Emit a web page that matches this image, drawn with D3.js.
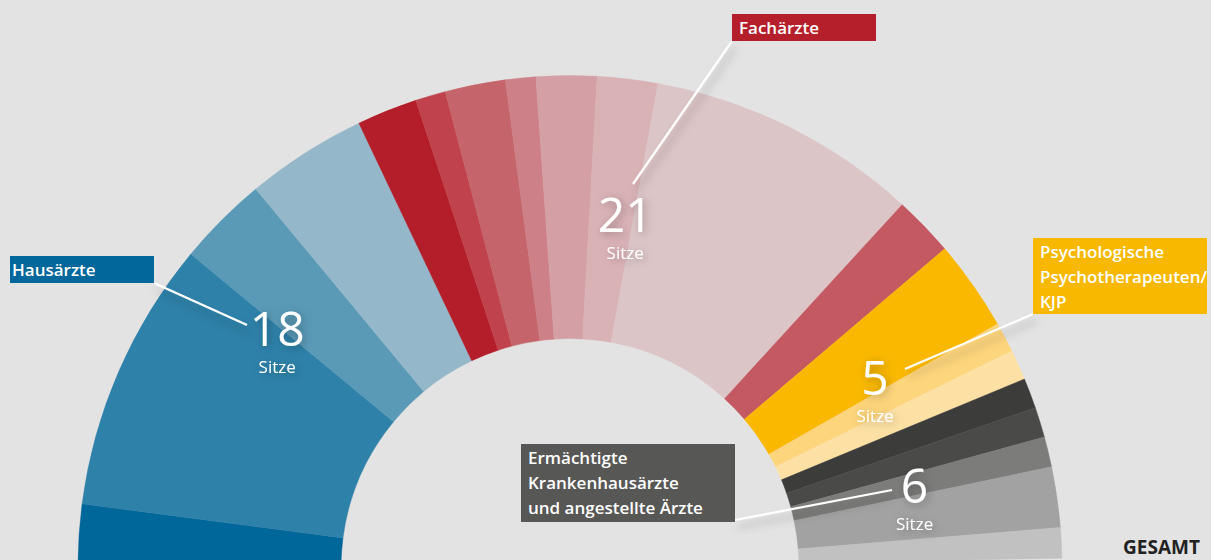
<!DOCTYPE html>
<html>
<head>
    <meta charset="utf-8">
    <title>Sitzverteilung</title>
    <script src="https://cdnjs.cloudflare.com/ajax/libs/d3/7.8.5/d3.min.js"></script>
    <style>
        html,
        body {
            margin: 0;
            padding: 0;
            background-color: #e3e3e3;
            font-family: 'Open Sans', sans-serif;
        }

        svg {
            display: block;
        }
    </style>
</head>
<body>
    <div id="chart"></div>
    <script>
        // seats per group
        const groupNames = ['Hausärzte', 'Fachärzte', 'Psychologische Psychotherapeuten/KJP',
            'Ermächtigte Krankenhausärzte und angestellte Ärzte'];
        const groupSeats = [18, 21, 5, 6];

        // sub segments (left to right)
        const segSeats = [2, 9, 3, 4, 2, 1, 2, 1, 2, 2, 9, 2, 3, 1, 1, 1, 1, 1, 2, 1];
        const segGroup = [0, 0, 0, 0, 1, 1, 1, 1, 1, 1, 1, 1, 2, 2, 2, 3, 3, 3, 3, 3];
        const segColors = ['#00679a', '#2e81a9', '#5a9ab7', '#94b8c9',
            '#b41e2b', '#c0424c', '#c5656b', '#cd8087', '#d4a0a5', '#d9b2b6', '#dcc5c7', '#c45962',
            '#fab800', '#fdd57c', '#fde1a4',
            '#3c3c3b', '#4a4a49', '#7c7c7b', '#a2a2a2', '#c1c1c1'];

        // annotation boxes
        const boxColors = ['#02679a', '#b51f2b', '#f9b800', '#575756'];
        const boxLines = [['Hausärzte'], ['Fachärzte'], ['Psychologische', 'Psychotherapeuten/', 'KJP'],
            ['Ermächtigte', 'Krankenhausärzte', 'und angestellte Ärzte']];
        const boxRects = [[10, 256, 144, 27], [732, 14, 144, 27], [1033, 238, 174, 76], [521, 444, 214, 78]];
        const boxPad = [2, 7, 7, 7];
        const labelSeat = [10.9, 27.6, 41.4, 46.6];
        const labelRadius = [378, 357, 359, 354];
        const leaderFrom = [[154, 283], [732, 41], [1033, 314], [735, 520]];
        const leaderTo = [[247, 325], [633, 184], [905, 369], [892, 490]];

        const width = 1211, height = 560;
        const cx = 570, cy = 567.6;
        const innerR = 229, outerR = 492;
        const totalSeats = d3.sum(groupSeats);

        const angle = d3.scaleLinear()
            .domain([0, totalSeats])
            .range([(-89.7) * Math.PI / 180, 88.9 * Math.PI / 180]);

        const svg = d3.select('#chart')
            .append('svg')
            .attr('width', width)
            .attr('height', height);

        const defs = svg.append('defs');
        const shadow = defs.append('filter')
            .attr('id', 'shadow')
            .attr('x', '-50%').attr('y', '-50%')
            .attr('width', '200%').attr('height', '200%');
        shadow.append('feDropShadow')
            .attr('dx', 3).attr('dy', 7)
            .attr('stdDeviation', 4)
            .attr('flood-color', '#000')
            .attr('flood-opacity', 0.28);

        const glow = defs.append('filter')
            .attr('id', 'glow')
            .attr('x', '-50%').attr('y', '-50%')
            .attr('width', '200%').attr('height', '200%');
        glow.append('feDropShadow')
            .attr('dx', 2).attr('dy', 2)
            .attr('stdDeviation', 5)
            .attr('flood-color', '#000')
            .attr('flood-opacity', 0.3);

        let acc = 0;
        const segs = segSeats.map((s, i) => {
            const d = { start: acc, end: acc + s, color: segColors[i], group: segGroup[i] };
            acc += s;
            return d;
        });

        const arc = d3.arc()
            .innerRadius(innerR)
            .outerRadius(outerR)
            .startAngle(d => angle(d.start))
            .endAngle(d => angle(d.end))
            .padAngle(0);

        const g = svg.append('g').attr('transform', `translate(${cx},${cy})`);

        g.selectAll('path')
            .data(segs)
            .enter()
            .append('path')
            .attr('d', arc)
            .attr('fill', d => d.color)
            .attr('stroke', d => d.color)
            .attr('stroke-width', 0.5);

        // leader lines
        svg.selectAll('.leader')
            .data(leaderFrom)
            .enter()
            .append('line')
            .attr('class', 'leader')
            .attr('x1', d => d[0])
            .attr('y1', d => d[1])
            .attr('x2', (d, i) => leaderTo[i][0])
            .attr('y2', (d, i) => leaderTo[i][1])
            .attr('stroke', '#fff')
            .attr('stroke-width', 2.2)
            .attr('filter', 'url(#shadow)');

        // seat numbers, number and "Sitze" in one text
        const labels = svg.selectAll('.num')
            .data(groupSeats)
            .enter()
            .append('text')
            .attr('class', 'num')
            .attr('transform', (d, i) => {
                const a = angle(labelSeat[i]);
                const x = cx + labelRadius[i] * Math.sin(a);
                const y = cy - labelRadius[i] * Math.cos(a);
                return `translate(${x},${y})`;
            })
            .attr('text-anchor', 'middle')
            .attr('fill', '#fff')
            .attr('filter', 'url(#glow)');

        labels.append('tspan')
            .attr('x', 0)
            .attr('y', 17)
            .style('font-size', '48px')
            .style('font-weight', 500)
            .text(d => d);

        labels.append('tspan')
            .attr('x', 0)
            .attr('y', 44)
            .style('font-size', '17px')
            .style('font-weight', 500)
            .text('Sitze');

        // group boxes
        const boxes = svg.selectAll('.box')
            .data(groupNames)
            .enter()
            .append('g')
            .attr('class', 'box');

        boxes.append('rect')
            .attr('x', (d, i) => boxRects[i][0])
            .attr('y', (d, i) => boxRects[i][1])
            .attr('width', (d, i) => boxRects[i][2])
            .attr('height', (d, i) => boxRects[i][3])
            .attr('fill', (d, i) => boxColors[i]);

        boxes.each(function (d, i) {
            const t = d3.select(this).append('text')
                .attr('fill', '#fff')
                .style('font-size', '17px')
                .style('font-weight', 600);
            boxLines[i].forEach((line, j) => {
                t.append('tspan')
                    .attr('x', boxRects[i][0] + boxPad[i])
                    .attr('y', boxRects[i][1] + 19.5 + j * 25)
                    .text(line);
            });
        });

        svg.append('text')
            .attr('x', 1200)
            .attr('y', 554)
            .attr('text-anchor', 'end')
            .attr('fill', '#222')
            .style('font-size', '19px')
            .style('font-weight', 700)
            .text('GESAMT');
    </script>
</body>
</html>
